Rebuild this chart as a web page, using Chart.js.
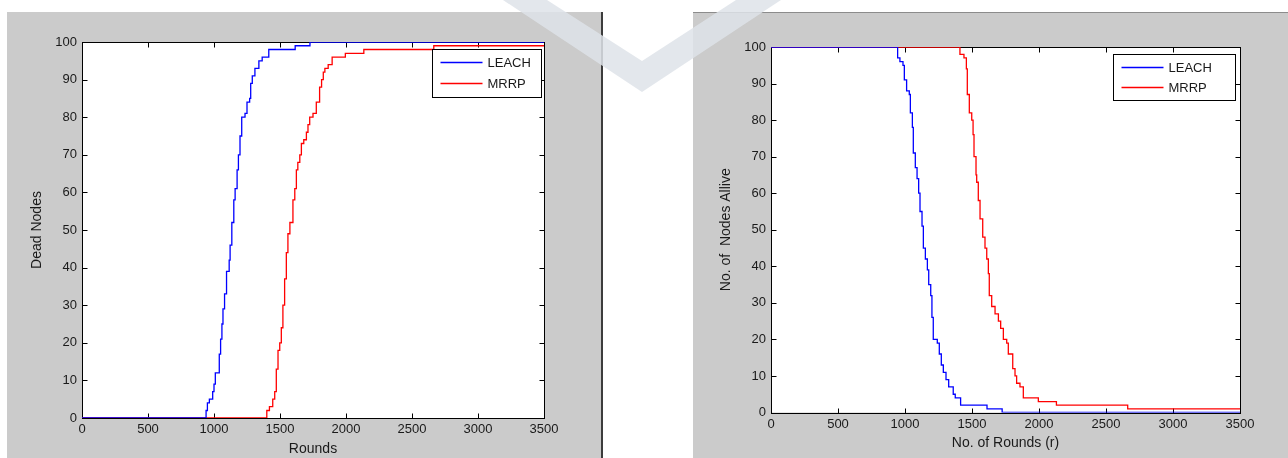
<!DOCTYPE html>
<html>
<head>
<meta charset="utf-8">
<script src="https://cdn.jsdelivr.net/npm/chart.js@4.4.0/dist/chart.umd.min.js"></script>
<style>
    body { margin: 0; width: 1288px; height: 458px; background: #fff; position: relative; overflow: hidden; }
    .panel { position: absolute; background: #cbcbcb; }
    canvas { position: absolute; }
    #mark { position: absolute; left: 0; top: 0; pointer-events: none; }
</style>
</head>
<body>
<div class="panel" style="left:7px;top:12px;width:594px;height:446px;border-right:2px solid #3c3c3c"></div>
<div class="panel" style="left:693px;top:12px;width:595px;height:446px;border-top:1px solid #8c8c8c"></div>
<canvas id="chart-dead" width="594" height="446" style="left:7px;top:12px"></canvas>
<canvas id="chart-alive" width="595" height="446" style="left:693px;top:12px"></canvas>
<svg id="mark" width="1288" height="458">
    <polygon points="503,0 547,0 642,61 736,0 781,0 642,92" fill="rgb(222,227,233)" fill-opacity="0.85"/>
</svg>
<script>
// tick labels
const xTicks = [0, 500, 1000, 1500, 2000, 2500, 3000, 3500]
const yTicks = [0, 10, 20, 30, 40, 50, 60, 70, 80, 90, 100]

// left plot: dead nodes (round where the count changes, new count)
const leachDeadRounds = [0, 930, 940, 950, 965, 990, 1000, 1010, 1040, 1050, 1060, 1068, 1080, 1095, 1115, 1122, 1135, 1150, 1160, 1175, 1185, 1197, 1210, 1235, 1250, 1270, 1278, 1290, 1310, 1340, 1365, 1415, 1615, 1727, 3500]
const leachDead = [0, 0, 2, 4, 5, 7, 9, 12, 17, 21, 25, 29, 33, 39, 42, 46, 52, 58, 61, 66, 70, 75, 80, 81, 84, 85, 89, 91, 93, 95, 96, 98, 99, 100, 100]
const mrrpDeadRounds = [0, 1394, 1400, 1420, 1445, 1460, 1472, 1485, 1498, 1510, 1522, 1535, 1548, 1560, 1575, 1598, 1612, 1624, 1635, 1650, 1662, 1680, 1700, 1712, 1725, 1750, 1775, 1800, 1815, 1828, 1840, 1865, 1895, 1995, 2135, 2665, 3500]
const mrrpDead = [0, 0, 2, 3, 5, 7, 13, 18, 20, 24, 30, 37, 44, 49, 52, 58, 61, 66, 68, 70, 73, 74, 76, 78, 80, 81, 84, 88, 90, 92, 93, 94, 96, 97, 98, 99, 99]

// right plot: nodes alive
const leachAliveRounds = [0, 935, 945, 962, 985, 995, 1012, 1032, 1040, 1055, 1062, 1077, 1090, 1102, 1112, 1127, 1137, 1152, 1167, 1177, 1192, 1201, 1211, 1241, 1256, 1271, 1286, 1306, 1326, 1360, 1375, 1415, 1612, 1725, 3500]
const leachAlive = [100, 100, 97, 96, 95, 91, 88, 87, 82, 78, 71, 67, 64, 60, 55, 51, 45, 42, 39, 35, 32, 26, 20, 19, 16, 13, 11, 9, 7, 5, 4, 2, 1, 0, 0]
const mrrpAliveRounds = [0, 1390, 1410, 1440, 1458, 1465, 1480, 1498, 1508, 1515, 1530, 1535, 1547, 1560, 1580, 1597, 1610, 1622, 1629, 1647, 1672, 1697, 1714, 1734, 1759, 1771, 1804, 1821, 1833, 1858, 1883, 1995, 2130, 2662, 3500]
const mrrpAlive = [100, 100, 98, 97, 94, 87, 82, 80, 76, 70, 65, 63, 58, 53, 48, 45, 42, 38, 32, 29, 27, 25, 23, 20, 19, 16, 12, 10, 8, 7, 4, 3, 2, 1, 1]

const FONT = '"Liberation Sans", Arial, sans-serif'
const INK = '#1a1a1a'

let points = (xs, ys) => xs.map((x, i) => ({x: x, y: ys[i]}))

// white axes box with inward ticks on all four sides, like matlab
const matlabAxes = {
    id: 'matlabAxes',
    beforeDraw: (chart) => {
        const a = chart.chartArea
        chart.ctx.save()
        chart.ctx.fillStyle = '#fff'
        chart.ctx.fillRect(a.left, a.top, a.right - a.left, a.bottom - a.top)
        chart.ctx.restore()
    },
    beforeDatasetsDraw: (chart) => {
        const ctx = chart.ctx
        const a = chart.chartArea
        const x = chart.scales.x
        const y = chart.scales.y
        const L = Math.round(a.left) + 0.5, R = Math.round(a.right) + 0.5
        const T = Math.round(a.top) + 0.5, B = Math.round(a.bottom) + 0.5
        ctx.save()
        ctx.strokeStyle = '#000'
        ctx.lineWidth = 1
        ctx.beginPath()
        x.ticks.forEach(t => {
            const px = Math.round(x.getPixelForValue(t.value)) + 0.5
            ctx.moveTo(px, B); ctx.lineTo(px, B - 5)
            ctx.moveTo(px, T); ctx.lineTo(px, T + 5)
        })
        y.ticks.forEach(t => {
            const py = Math.round(y.getPixelForValue(t.value)) + 0.5
            ctx.moveTo(L, py); ctx.lineTo(L + 5, py)
            ctx.moveTo(R, py); ctx.lineTo(R - 5, py)
        })
        ctx.stroke()
        ctx.strokeRect(L, T, R - L, B - T)
        ctx.restore()
    }
}

// boxed legend in the upper right of the axes
const boxLegend = {
    id: 'boxLegend',
    afterDraw: (chart, args, opts) => {
        const ctx = chart.ctx
        const a = chart.chartArea
        const left = Math.round(a.right - opts.right - opts.width) + 0.5
        const top = Math.round(a.top + opts.top) + 0.5
        ctx.save()
        ctx.fillStyle = '#fff'
        ctx.fillRect(left, top, opts.width, opts.height)
        ctx.strokeStyle = '#000'
        ctx.lineWidth = 1
        ctx.strokeRect(left, top, opts.width, opts.height)
        ctx.font = '13px ' + FONT
        ctx.textBaseline = 'middle'
        chart.data.datasets.forEach((ds, i) => {
            const rowY = top + opts.first + i * opts.gap
            ctx.strokeStyle = ds.borderColor
            ctx.lineWidth = 1.3
            ctx.beginPath()
            ctx.moveTo(left + 8, rowY)
            ctx.lineTo(left + 50, rowY)
            ctx.stroke()
            ctx.fillStyle = INK
            ctx.fillText(ds.label, left + 55, rowY + 1)
        })
        ctx.restore()
    }
}

let makeChart = (id, leachPts, mrrpPts, conf) => {
    const ctx = document.getElementById(id)
    const data = {
        datasets: [{
            label: 'LEACH',
            data: leachPts,
            borderColor: '#0000ff',
            borderWidth: 1.3,
            pointRadius: 0,
            stepped: 'before',
            fill: false
        }, {
            label: 'MRRP',
            data: mrrpPts,
            borderColor: '#ff0000',
            borderWidth: 1.3,
            pointRadius: 0,
            stepped: 'before',
            fill: false
        }]
    }
    const config = {
        type: 'line',
        data: data,
        options: {
            responsive: false,
            animation: false,
            devicePixelRatio: 1,
            layout: {padding: {left: 0, top: conf.top, right: conf.right, bottom: 0}},
            plugins: {
                legend: {display: false},
                tooltip: {enabled: false},
                boxLegend: conf.legend
            },
            scales: {
                x: {
                    type: 'linear',
                    min: 0,
                    max: 3500,
                    afterBuildTicks: (s) => { s.ticks = xTicks.map(v => ({value: v})) },
                    afterFit: (s) => { s.height = conf.xHeight },
                    grid: {display: false, drawTicks: false},
                    border: {display: false},
                    ticks: {padding: 4, maxRotation: 0, autoSkip: false, color: INK, font: {family: FONT, size: 13},
                        callback: (v) => String(v)},
                    title: {display: true, text: conf.xTitle, color: INK, font: {family: FONT, size: 14}, padding: {top: 0, bottom: conf.xTitlePad}}
                },
                y: {
                    type: 'linear',
                    min: 0,
                    max: 100,
                    afterBuildTicks: (s) => { s.ticks = yTicks.map(v => ({value: v})) },
                    afterFit: (s) => { s.width = conf.yWidth },
                    grid: {display: false, drawTicks: false},
                    border: {display: false},
                    ticks: {padding: 5, autoSkip: false, color: INK, font: {family: FONT, size: 13},
                        callback: (v) => String(v)},
                    title: {display: true, text: conf.yTitle, color: INK, font: {family: FONT, size: 14}, padding: {top: conf.yTitlePad, bottom: 0}}
                }
            }
        },
        plugins: [matlabAxes, boxLegend]
    }
    return new Chart(ctx, config)
}

makeChart('chart-dead', points(leachDeadRounds, leachDead), points(mrrpDeadRounds, mrrpDead), {
    top: 30, right: 57, yWidth: 75, xHeight: 40,
    xTitle: 'Rounds', yTitle: 'Dead Nodes', xTitlePad: 0, yTitlePad: 22,
    legend: {width: 109, height: 48, right: 3, top: 7, first: 13, gap: 21}
})

makeChart('chart-alive', points(leachAliveRounds, leachAlive), points(mrrpAliveRounds, mrrpAlive), {
    top: 35, right: 48, yWidth: 78, xHeight: 45.5,
    xTitle: 'No. of Rounds (r)', yTitle: 'No. of  Nodes Allive', xTitlePad: 6, yTitlePad: 25,
    legend: {width: 122, height: 46, right: 5, top: 7, first: 13, gap: 20}
})
</script>
</body>
</html>
